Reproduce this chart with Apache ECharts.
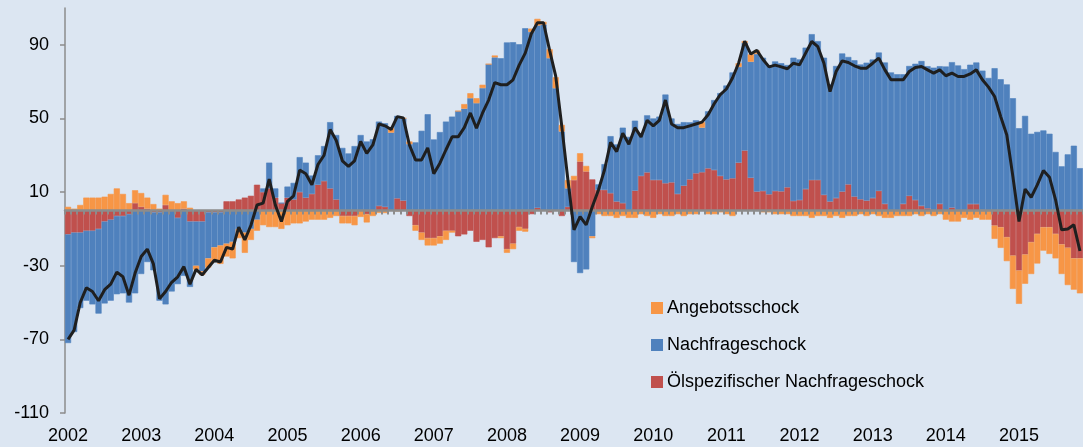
<!DOCTYPE html>
<html><head><meta charset="utf-8">
<script src="https://cdn.jsdelivr.net/npm/echarts@6/dist/echarts.min.js"></script>
<style>html,body{margin:0;padding:0;background:#dce6f2}#c{width:1083px;height:447px}</style>
</head><body><div id="c"></div>
<script>
const years = ['2002','2003','2004','2005','2006','2007','2008','2009','2010','2011','2012','2013','2014','2015'];
const yTicks = [-110, -70, -30, 10, 50, 90];
const seriesNames = ['Angebotsschock', 'Nachfrageschock', 'Ölspezifischer Nachfrageschock'];

// monthly values, Jan 2002 .. Nov 2015
const angebot = [
  2, 1, 3, 7, 7, 7, 7.5, 9, 12, 9, 4, 7,
  7.5, 6, 3.5, 1, 5.5, 5, 4, 4, 1.5, -2, -2, -5,
  -8, -10, -7, -9, -5, -11, -6, -6, -8, -9, -9, -10,
  -8, -7, -7, -6, -5, -5, -5, -4, -3, -4, -4, -5,
  -3.5, -4.5, -3, -1.3, -1.4, 2.3, -0.4, 0, 1.5, -3, -4, -4,
  -4, -4, -5, -1, 0, 2.5, 2.7, 2.7, 1.8, 0, 1, -1,
  -2, -3, -2, -1.5, 1.8, 3.6, 1.5, 4.9, 6, 3.6, 4.5, 2.3,
  4.5, 3, -1, -2, -3, -3, -4, -3, -4, -4, -2, -3,
  -4, -2, -3, -3, -2, -3, -2, -2, 3, -2, -2, -1,
  -2, -3, 2, 1, 4, 2, -1, -1, -2, -2, -2, -3,
  -3, -3, -4, -3, -3, -4, -3, -4, -3, -3, -2, -3,
  -2, -3, -4, -4, -3, -3, -3, -2, -3, -2, -3, -2,
  -5, -6, -6, -4, -5, -4, -5, -5, -7.2, -11.2, -13, -18.1,
  -18.1, -15.9, -17.3, -16.1, -12.7, -14.5, -13.3, -16.1, -20.3, -17, -19
];
const nachfrage = [
  -59, -54, -41, -38, -40, -46, -44.5, -44, -42.5, -42, -48, -45,
  -34.5, -28, -31.5, -48, -51, -44, -36, -35.5, -35.5, -24, -27, -25,
  -19, -18, -18, -17, -10, -12, -10, -5, 2, 14, 5, 0,
  6, 9, 19, 19, 10, 16, 19, 36, 35, 34, 31, 35,
  41, 37.5, 38.7, 45.8, 45.4, 42.3, 44.8, 44.7, 36, 37, 43.3, 52.3,
  38.6, 42.6, 48.3, 51, 54, 55.3, 61, 58.3, 66.5, 79.5, 83.2, 82.7,
  91.3, 91.4, 90.3, 99, 97, 99, 101, 82.7, 66.4, 42.9, 10, -28,
  -34, -32, -14, 3, 14, 31, 31, 41, 40, 38, 23, 31,
  33.4, 34.4, 48.2, 34.7, 38, 34.5, 31, 28.8, 24.2, 31, 38, 45,
  51, 57.5, 52, 58.4, 63, 74.7, 72.4, 70, 70.4, 69.6, 66.4, 77.8,
  76.4, 76.9, 79.2, 75.4, 74.5, 63.7, 71.8, 75, 69.2, 74, 73.2, 74.9,
  75.3, 75.1, 76.8, 75, 74, 70.4, 70.5, 74, 78.7, 77.2, 77.6, 74.8,
  78.2, 79, 78.8, 76.8, 75.7, 76.9, 75.6, 72, 77.3, 71.3, 68.5, 61,
  44.7, 51.4, 41.7, 42.7, 43.5, 41.7, 31.8, 24, 30.5, 35.2, 23
];
const oelspezifisch = [
  -13, -12, -12, -11, -11, -10, -6, -5, -3, -3, -2, 4,
  2, 1, -1, -1, 3, 0, -4, 1, -6, -6, -6, -1,
  -1, -1, 5, 5, 6, 7, 8, 14, 10, 12, 7, 4,
  7, 6, 10, 7, 9, 14, 16, 12, 6, -3, -3, -3,
  0, -2, 0, 2.5, 2, 0, 6.6, 5.4, -3, -8, -12, -15,
  -15, -14, -11, -11, -14, -13, -11, -17, -16, -20, -15, -14,
  -21, -18, -9, -10, -2, 1.5, 0, -1, 0, -3, 2, 16.5,
  26.6, 21.2, 16.9, 11.2, 11.2, 9.4, 4.9, 4, 0, 10.8, 18.8, 20.7,
  16.6, 16.6, 14.8, 15.3, 9, 13.5, 16.9, 20.2, 20.8, 22.9, 22, 18.8,
  16.9, 17.5, 26, 32.6, 17.8, 10.3, 10.6, 8.8, 10.6, 10.4, 12.6, 5.2,
  5.7, 11.6, 16.6, 16.6, 8.5, 4.9, 6.7, 10.3, 14.2, 7.6, 6.1, 5.4,
  6.7, 10.7, 3.6, 0, 0, 3.6, 8, 5.7, 2.5, 1.2, 0, 3.6,
  0, 1.6, 0, 0, 3.5, 3.5, 0.4, 0, -8.2, -9.1, -14.5, -24.5,
  -32.6, -23.9, -17.2, -12.7, -9.1, -9.1, -12.7, -18.4, -20.2, -26, -26
];
const gesamt = [
  -70, -65, -50, -42, -44, -49, -43, -40, -33.5, -36, -46, -34,
  -25, -21, -29, -48, -44, -39, -36, -30.5, -40, -32, -35, -31,
  -27, -28, -20, -21, -9, -16, -8, 3, 4, 17, 3, -6,
  5, 8, 22, 20, 14, 25, 30, 44, 38, 27, 24, 27,
  37.5, 31, 35.6, 47, 46, 44, 51, 50.3, 35.6, 27.5, 27.5, 34,
  20, 25.7, 33, 40, 40, 45, 53, 44.7, 53, 60, 69.5, 68.3,
  68.3, 71, 79, 85.5, 96, 102, 102, 87, 73, 45.6, 16.6, -10.5,
  -3.3, -7.8, 2, 11, 22, 37, 32, 42, 36, 45, 40, 49,
  46, 49, 60, 47, 45, 45, 46, 47, 48, 52, 58, 63,
  66, 72, 80, 92, 85, 87, 82, 78, 79, 78, 77, 80,
  79.1, 85.5, 91.8, 89, 80, 64.6, 75.5, 81.3, 80.4, 78.6, 77.3, 77.3,
  80, 82.8, 76.4, 71, 71, 71, 75.5, 77.7, 78.2, 76.4, 74.6, 76.4,
  73.2, 74.6, 72.8, 72.8, 74.2, 76.4, 71, 67, 61.9, 51, 41, 18.4,
  -6, 11.6, 7.2, 13.9, 21.7, 18.1, 5.8, -10.5, -10, -7.8, -22
];

const months = [];
years.forEach(y => { for (let m = 1; m <= 12; m++) months.push(y + '-' + String(m).padStart(2, '0')); });
months.length = angebot.length;

const FONT = '"Liberation Sans", Arial, Helvetica, sans-serif';
const C_ORANGE = '#f79646', C_BLUE = '#4f81bd', C_RED = '#c0504d';
const AXIS_GREY = '#8c8c8c';

function barSeries(name, data, color) {
  return {
    name: name, type: 'bar', stack: 'total', data: data,
    barCategoryGap: '0%', z: 2,
    itemStyle: { color: color, borderColor: color, borderWidth: 0.6 },
    emphasis: { disabled: true }
  };
}

const chart = echarts.init(document.getElementById('c'), null, { renderer: 'canvas' });
chart.setOption({
  animation: false,
  backgroundColor: '#dce6f2',
  textStyle: { fontFamily: FONT },
  grid: { left: 65, right: -4, top: 8, bottom: 34, containLabel: false },
  legend: {
    orient: 'vertical', left: 651, top: 298, padding: 0,
    itemWidth: 10, itemHeight: 10, itemGap: 17, icon: 'rect',
    data: seriesNames,
    textStyle: { fontSize: 18, color: '#000', lineHeight: 20, fontFamily: FONT }
  },
  xAxis: [
    {
      type: 'category', data: months, position: 'bottom',
      axisLine: { show: false, onZero: false }, axisTick: { show: false }, splitLine: { show: false },
      axisLabel: {
        interval: (i) => i % 12 === 0,
        formatter: (v) => v.slice(0, 4),
        fontSize: 18, color: '#000', margin: 14, fontFamily: FONT
      }
    },
    {
      type: 'category', data: months, position: 'top', z: 5,
      axisLine: { show: true, onZero: true, lineStyle: { color: AXIS_GREY, width: 2.5 } },
      axisTick: { show: true, interval: 0, inside: true, length: 4, lineStyle: { color: AXIS_GREY, width: 2 } },
      axisLabel: { show: false }, splitLine: { show: false }
    }
  ],
  yAxis: {
    type: 'value', min: -110, max: 110, interval: 40,
    axisLine: { show: true, lineStyle: { color: AXIS_GREY, width: 1.5 } },
    axisTick: { show: true, length: 5, customValues: yTicks, lineStyle: { color: AXIS_GREY, width: 1.5 } },
    axisLabel: { customValues: yTicks, fontSize: 18, color: '#000', margin: 16, fontFamily: FONT },
    splitLine: { show: false }
  },
  series: [
    barSeries(seriesNames[2], oelspezifisch, C_RED),
    barSeries(seriesNames[1], nachfrage, C_BLUE),
    barSeries(seriesNames[0], angebot, C_ORANGE),
    {
      name: 'Gesamt', type: 'line', data: gesamt, symbol: 'none', z: 10,
      lineStyle: { color: '#1f1f1f', width: 3 }, emphasis: { disabled: true }
    }
  ]
});
</script>
</body></html>
